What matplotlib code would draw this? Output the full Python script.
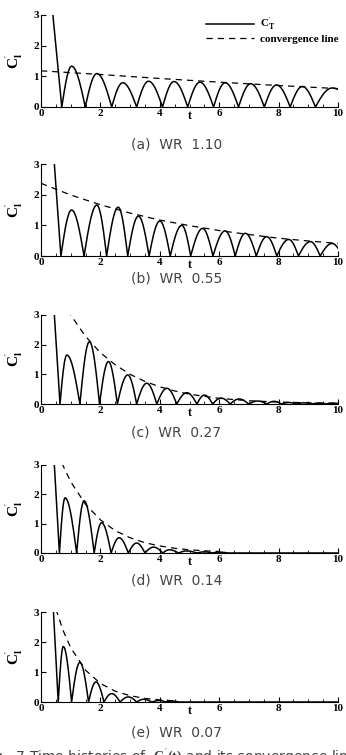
import numpy as np
import matplotlib
matplotlib.use("Agg")
import matplotlib.pyplot as plt
from matplotlib.ticker import MultipleLocator

plt.rcParams['font.family'] = ['Liberation Serif', 'DejaVu Serif']
plt.rcParams['mathtext.fontset'] = 'custom'
plt.rcParams['mathtext.rm'] = 'Liberation Serif:bold'
plt.rcParams['mathtext.it'] = 'Liberation Serif:bold'

# panel captions
captions = ["(a)  WR  1.10", "(b)  WR  0.55", "(c)  WR  0.27", "(d)  WR  0.14", "(e)  WR  0.07"]

# start of the steep initial drop (t where the curve leaves the top at C=3)
lead_t = [0.40, 0.45, 0.45, 0.45, 0.42]

# zero crossings of |C_l'| (lobe boundaries)
zeros_a = [0.70, 1.49, 2.38, 3.22, 4.09, 4.94, 5.81, 6.65, 7.52, 8.39, 9.24, 10.6]
zeros_b = [0.67, 1.45, 2.21, 2.92, 3.64, 4.35, 5.04, 5.79, 6.54, 7.25, 7.94, 8.67, 9.40, 10.15]
zeros_c = [0.64, 1.31, 1.97, 2.57, 3.22, 3.90, 4.57, 5.25, 5.78, 6.37, 6.99, 7.60, 8.10, 8.60, 9.10, 9.60, 10.10]
zeros_d = [0.62, 1.20, 1.79, 2.36, 2.94, 3.50, 4.10, 4.63, 5.25, 5.75, 6.30]
zeros_e = [0.58, 1.03, 1.60, 2.12, 2.66, 3.22, 3.73, 4.20, 4.65]

# lobe peaks (time, height)
peak_t_a = [1.03, 1.88, 2.75, 3.62, 4.48, 5.35, 6.20, 7.06, 7.93, 8.80, 9.80]
peak_h_a = [1.33, 1.09, 0.79, 0.84, 0.83, 0.81, 0.79, 0.76, 0.72, 0.67, 0.62]
peak_t_b = [1.03, 1.88, 2.60, 3.28, 4.00, 4.74, 5.44, 6.20, 6.88, 7.60, 8.34, 9.07, 9.80]
peak_h_b = [1.50, 1.66, 1.59, 1.30, 1.14, 1.00, 0.90, 0.82, 0.74, 0.63, 0.54, 0.47, 0.41]
peak_t_c = [0.87, 1.63, 2.27, 2.92, 3.56, 4.24, 4.91, 5.50, 6.06, 6.67, 7.30, 7.85, 8.35, 8.85, 9.35, 9.85]
peak_h_c = [1.65, 2.10, 1.43, 0.98, 0.70, 0.53, 0.38, 0.30, 0.20, 0.17, 0.10, 0.09, 0.05, 0.04, 0.03, 0.03]
peak_t_d = [0.81, 1.45, 2.04, 2.63, 3.22, 3.79, 4.32, 4.90, 5.50, 6.00]
peak_h_d = [1.88, 1.78, 1.03, 0.52, 0.34, 0.20, 0.11, 0.07, 0.04, 0.03]
peak_t_e = [0.75, 1.31, 1.85, 2.38, 2.94, 3.45, 3.98, 4.42]
peak_h_e = [1.85, 1.32, 0.67, 0.28, 0.17, 0.09, 0.05, 0.03]

# convergence (envelope) lines, read at a few t
conv_t_a = [0, 2, 4, 6, 8, 10]
conv_y_a = [1.18, 1.06, 0.93, 0.81, 0.70, 0.60]
conv_t_b = [0, 1, 2, 3, 4, 5, 6, 7, 8, 9, 10]
conv_y_b = [2.37, 1.99, 1.67, 1.40, 1.17, 0.99, 0.83, 0.70, 0.58, 0.49, 0.41]
conv_t_c = [0.9, 1.0, 1.5, 2.0, 2.5, 3.0, 3.5, 4.0, 4.5, 5.0, 6.0, 7.0, 8.0, 9.0, 10.0]
conv_y_c = [3.17, 3.00, 2.28, 1.73, 1.32, 1.00, 0.76, 0.58, 0.44, 0.33, 0.19, 0.11, 0.065, 0.04, 0.02]
conv_t_d = [0.7, 1.0, 1.5, 2.0, 2.5, 3.0, 3.5, 4.0, 4.5, 5.0, 5.5, 6.0]
conv_y_d = [3.07, 2.43, 1.66, 1.13, 0.76, 0.52, 0.35, 0.24, 0.16, 0.11, 0.075, 0.05]
conv_t_e = [0.5, 0.75, 1.0, 1.5, 2.0, 2.5, 3.0, 3.5, 4.0, 4.5]
conv_y_e = [3.10, 2.37, 1.81, 1.06, 0.62, 0.36, 0.21, 0.12, 0.07, 0.04]

zeros = [zeros_a, zeros_b, zeros_c, zeros_d, zeros_e]
peak_t = [peak_t_a, peak_t_b, peak_t_c, peak_t_d, peak_t_e]
peak_h = [peak_h_a, peak_h_b, peak_h_c, peak_h_d, peak_h_e]
conv_t = [conv_t_a, conv_t_b, conv_t_c, conv_t_d, conv_t_e]
conv_y = [conv_y_a, conv_y_b, conv_y_c, conv_y_d, conv_y_e]

# axes boxes in pixels: (bottom y of axis from top, height)
boxes = [(107, 92), (256, 92), (404, 89), (553, 88), (702, 90)]
cap_y = [144, 278, 432, 580, 733]

W, H = 346, 755
fig = plt.figure(figsize=(W / 100, H / 100), dpi=100)


def lobes(z, pt, ph):
    # each lobe drawn as a rounded arch between two zeros
    ts, ys = [], []
    for i in range(len(pt)):
        r = np.linspace(z[i], pt[i], 20)
        ts.append(r)
        ys.append(ph[i] * np.sin(np.pi / 2 * (r - z[i]) / (pt[i] - z[i])))
        f = np.linspace(pt[i], z[i + 1], 20)
        ts.append(f)
        ys.append(ph[i] * np.cos(np.pi / 2 * (f - pt[i]) / (z[i + 1] - pt[i])))
    return np.concatenate(ts), np.concatenate(ys)


for k in range(5):
    yb, hh = boxes[k]
    ax = fig.add_axes([41 / W, (H - yb) / H, 297 / W, hh / H])
    t, y = lobes(zeros[k], peak_t[k], peak_h[k])
    t = np.concatenate([[lead_t[k]], t])
    y = np.concatenate([[3.0], y])
    if zeros[k][-1] < 10:
        t = np.append(t, 10.0)
        y = np.append(y, 0.0)
    ax.plot(t, y, color='black', lw=1.1, label=r"$\mathrm{C}_{\mathrm{T}}^{'}$")
    ax.plot(conv_t[k], conv_y[k], color='black', lw=0.9, ls=(0, (5, 4)),
            label='convergence line')
    ax.set_xlim(0, 10)
    ax.set_ylim(0, 3)
    ax.spines['top'].set_visible(False)
    ax.spines['right'].set_visible(False)
    ax.xaxis.set_major_locator(MultipleLocator(2))
    ax.xaxis.set_minor_locator(MultipleLocator(0.5))
    ax.yaxis.set_major_locator(MultipleLocator(1))
    ax.tick_params(which='both', direction='in', labelsize=8, pad=1.5)
    ax.tick_params(which='major', length=3.5)
    ax.tick_params(which='minor', length=2)
    for lab in ax.get_xticklabels() + ax.get_yticklabels():
        lab.set_fontweight('bold')
    ax.set_xlabel('t', fontweight='bold', fontsize=8.5)
    ax.xaxis.set_label_coords(0.5, -0.035)
    ax.set_ylabel(r"$\mathrm{C}_{\mathrm{l}}^{'}$", fontsize=11, labelpad=6)
    if k == 0:
        ax.legend(loc='upper left', bbox_to_anchor=(206 / W, 1 - 16 / H),
                  bbox_transform=fig.transFigure, frameon=False,
                  handlelength=4.3, handletextpad=0.6, borderpad=0,
                  borderaxespad=0, labelspacing=0.15,
                  prop={'weight': 'bold', 'size': 8})
    fig.text(0.51, (H - cap_y[k]) / H, captions[k], ha='center', va='center',
             fontsize=10, color='#444444', family='DejaVu Sans')

fig.text(0.5, (H - 757) / H, r"Fig.  7 Time histories of  $C_l^{'}(t)$ and its convergence lines",
         ha='center', va='center', fontsize=10, color='#444444', family='DejaVu Sans')

fig.savefig('out.png', dpi=100)
